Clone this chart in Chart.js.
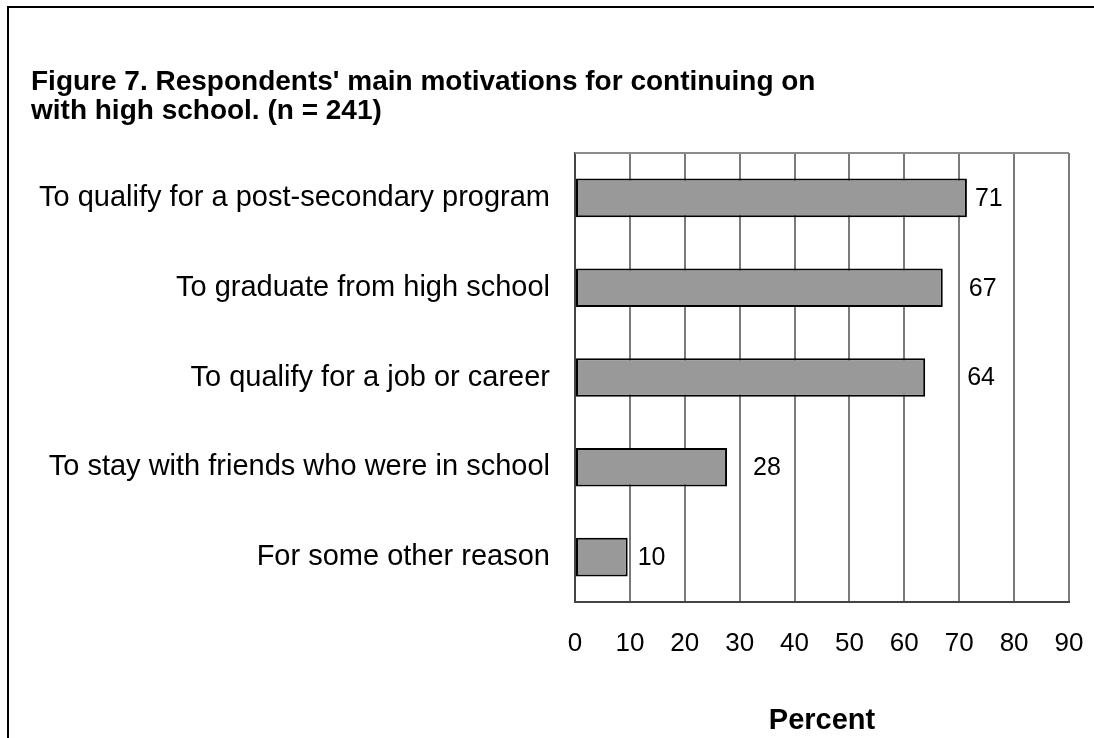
<!DOCTYPE html>
<html>
<head>
<meta charset="utf-8">
<script src="https://cdn.jsdelivr.net/npm/chart.js@4"></script>
<style>
  html, body { margin: 0; padding: 0; background: #fff; }
  #wrap { position: relative; width: 1094px; height: 738px; }
</style>
</head>
<body>
<div id="wrap"><canvas id="motivationsChart" width="1094" height="738"></canvas></div>
<script>
const categories = [
    'To qualify for a post-secondary program',
    'To graduate from high school',
    'To qualify for a job or career',
    'To stay with friends who were in school',
    'For some other reason'
];
const percents = [71.4, 67, 63.8, 27.7, 9.6];
const xTicks = [0, 10, 20, 30, 40, 50, 60, 70, 80, 90];
const titleLines = [
    "Figure 7. Respondents' main motivations for continuing on",
    'with high school. (n = 241)'
];
const axisTitle = 'Percent';

// gap between bar end and its label, as Excel placed them
const labelGaps = [8, 26, 42, 26, 10];

const font = 'Liberation Sans, Arial, sans-serif';

const framePlugin = {
    id: 'frame',
    beforeDraw(chart) {
        const ctx = chart.ctx;
        ctx.save();
        ctx.fillStyle = '#fff';
        ctx.fillRect(0, 0, chart.width, chart.height);
        ctx.strokeStyle = '#000';
        ctx.lineWidth = 2;
        ctx.strokeRect(8, 7, chart.width + 20, chart.height + 20);
        ctx.fillStyle = '#000';
        ctx.font = 'bold 28px ' + font;
        ctx.textBaseline = 'alphabetic';
        ctx.textAlign = 'left';
        ctx.fillText(titleLines[0], 31, 90);
        ctx.fillText(titleLines[1], 31, 119);
        ctx.restore();
    },
    beforeDatasetsDraw(chart) {
        const a = chart.chartArea, ctx = chart.ctx;
        ctx.save();
        ctx.strokeStyle = '#8c8c8c';
        ctx.lineWidth = 2;
        ctx.beginPath();
        ctx.moveTo(a.left, a.top);
        ctx.lineTo(a.right, a.top);
        ctx.stroke();
        ctx.restore();
    },
    afterDatasetsDraw(chart) {
        const ctx = chart.ctx;
        const meta = chart.getDatasetMeta(0);
        ctx.save();
        ctx.fillStyle = '#000';
        ctx.font = '25px ' + font;
        ctx.textAlign = 'left';
        ctx.textBaseline = 'middle';
        meta.data.forEach((bar, i) => {
            ctx.fillText(String(Math.round(percents[i])), bar.x + labelGaps[i], bar.y + 1);
        });
        ctx.restore();
    }
};

const ctx = document.getElementById('motivationsChart').getContext('2d');
const motivationsChart = new Chart(ctx, {
    type: 'bar',
    data: {
        labels: categories,
        datasets: [{
            data: percents,
            backgroundColor: '#999999',
            borderColor: '#000000',
            borderWidth: 2,
            borderSkipped: false,
            categoryPercentage: 1,
            barPercentage: 0.43
        }]
    },
    options: {
        indexAxis: 'y',
        responsive: false,
        animation: false,
        layout: { padding: { top: 153, right: 25, left: 0, bottom: 0 } },
        plugins: {
            legend: { display: false },
            tooltip: { enabled: false }
        },
        scales: {
            x: {
                min: 0,
                max: 90,
                afterBuildTicks(scale) {
                    scale.ticks = xTicks.map(v => ({ value: v }));
                },
                afterFit(scale) {
                    scale.height = 136;
                    scale.paddingLeft = 0;
                    scale.paddingRight = 0;
                },
                grid: { color: '#7a7a7a', lineWidth: 2, drawTicks: false },
                border: { display: true, color: '#444', width: 2 },
                ticks: {
                    color: '#000',
                    padding: 26,
                    maxRotation: 0,
                    font: { family: font, size: 26 }
                },
                title: {
                    display: true,
                    text: axisTitle,
                    color: '#000',
                    padding: { top: 22, bottom: 0 },
                    font: { family: font, size: 29, weight: 'bold' }
                }
            },
            y: {
                afterFit(scale) { scale.width = 575; },
                grid: { display: false, drawTicks: false },
                border: { display: true, color: '#444', width: 2 },
                ticks: {
                    color: '#000',
                    padding: 25,
                    font: { family: font, size: 29 }
                }
            }
        }
    },
    plugins: [framePlugin]
});
</script>
</body>
</html>
